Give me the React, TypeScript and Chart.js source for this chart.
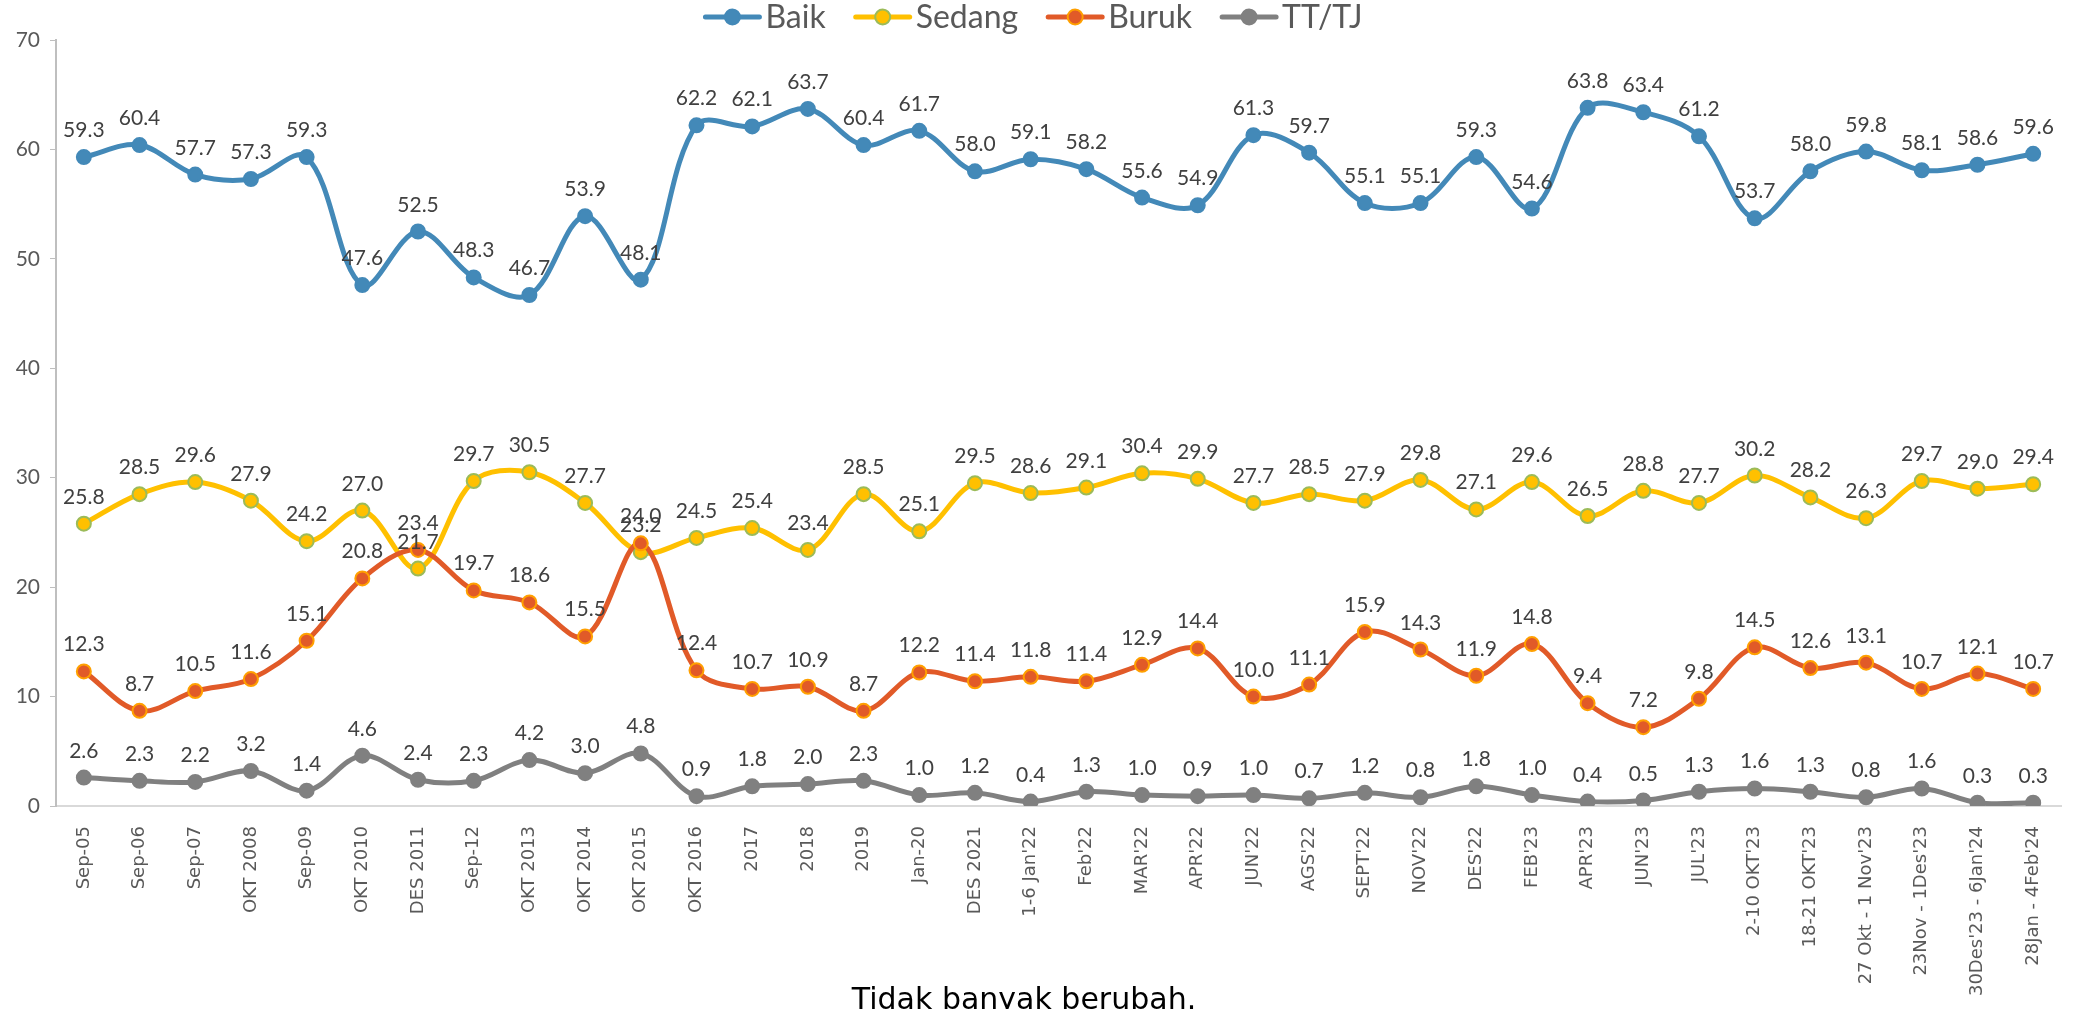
import React, { useEffect, useRef } from "react";
import { Chart, registerables } from "chart.js";
Chart.register(...registerables);

const categories = [
  "Sep-05", "Sep-06", "Sep-07", "OKT 2008", "Sep-09", "OKT 2010", "DES 2011", "Sep-12",
  "OKT 2013", "OKT 2014", "OKT 2015", "OKT 2016", "2017", "2018", "2019", "Jan-20",
  "DES 2021", "1-6 Jan'22", "Feb'22", "MAR'22", "APR'22", "JUN'22", "AGS'22", "SEPT'22",
  "NOV'22", "DES'22", "FEB'23", "APR'23", "JUN'23", "JUL'23", "2-10 OKT'23", "18-21 OKT'23",
  "27 Okt - 1 Nov'23", "23Nov - 1Des'23", "30Des'23 - 6Jan'24", "28Jan - 4Feb'24",
];

const baik = [
  59.3, 60.4, 57.7, 57.3, 59.3, 47.6, 52.5, 48.3, 46.7, 53.9, 48.1, 62.2, 62.1, 63.7, 60.4, 61.7,
  58.0, 59.1, 58.2, 55.6, 54.9, 61.3, 59.7, 55.1, 55.1, 59.3, 54.6, 63.8, 63.4, 61.2, 53.7, 58.0,
  59.8, 58.1, 58.6, 59.6,
];
const sedang = [
  25.8, 28.5, 29.6, 27.9, 24.2, 27.0, 21.7, 29.7, 30.5, 27.7, 23.2, 24.5, 25.4, 23.4, 28.5, 25.1,
  29.5, 28.6, 29.1, 30.4, 29.9, 27.7, 28.5, 27.9, 29.8, 27.1, 29.6, 26.5, 28.8, 27.7, 30.2, 28.2,
  26.3, 29.7, 29.0, 29.4,
];
const buruk = [
  12.3, 8.7, 10.5, 11.6, 15.1, 20.8, 23.4, 19.7, 18.6, 15.5, 24.0, 12.4, 10.7, 10.9, 8.7, 12.2,
  11.4, 11.8, 11.4, 12.9, 14.4, 10.0, 11.1, 15.9, 14.3, 11.9, 14.8, 9.4, 7.2, 9.8, 14.5, 12.6,
  13.1, 10.7, 12.1, 10.7,
];
const tttj = [
  2.6, 2.3, 2.2, 3.2, 1.4, 4.6, 2.4, 2.3, 4.2, 3.0, 4.8, 0.9, 1.8, 2.0, 2.3, 1.0,
  1.2, 0.4, 1.3, 1.0, 0.9, 1.0, 0.7, 1.2, 0.8, 1.8, 1.0, 0.4, 0.5, 1.3, 1.6, 1.3,
  0.8, 1.6, 0.3, 0.3,
];

const yTicks = [0, 10, 20, 30, 40, 50, 60, 70];
const titleText = "Tidak banyak berubah.";

const FONT = "'Lato', 'DejaVu Sans', sans-serif";
const AXIS_FONT = "'DejaVu Sans', sans-serif";

export default function App() {
  const ref = useRef<HTMLCanvasElement>(null);

  useEffect(() => {
    document.body.style.margin = "0";
    const canvas = ref.current!;

    const series = [
      { label: "Baik", data: baik, line: "#4389B8", fill: "#4389B8", border: "#4389B8", order: 4 },
      { label: "Sedang", data: sedang, line: "#FFC000", fill: "#FFC000", border: "#9BBB59", order: 3 },
      { label: "Buruk", data: buruk, line: "#E15A28", fill: "#E15A28", border: "#FFA000", order: 2 },
      { label: "TT/TJ", data: tttj, line: "#808080", fill: "#808080", border: "#808080", order: 1 },
    ];

    const legendPlugin = {
      id: "customLegend",
      afterDraw(chart: any) {
        const c = chart.ctx as CanvasRenderingContext2D;
        c.save();
        c.font = `32px ${FONT}`;
        const lineW = 58;
        const gapText = 4;
        const gapItem = 28;
        const widths = series.map((s) => c.measureText(s.label).width);
        let total = 0;
        widths.forEach((w, i) => {
          total += lineW + gapText + w + (i > 0 ? gapItem : 0);
        });
        let x = 1033 - total / 2;
        const y = 17;
        series.forEach((s, i) => {
          c.strokeStyle = s.line;
          c.lineWidth = 5;
          c.lineCap = "round";
          c.beginPath();
          c.moveTo(x + 2, y);
          c.lineTo(x + lineW - 2, y);
          c.stroke();
          c.beginPath();
          c.arc(x + lineW / 2, y, 7.5, 0, Math.PI * 2);
          c.fillStyle = s.fill;
          c.fill();
          c.lineWidth = 2;
          c.strokeStyle = s.border;
          c.stroke();
          c.fillStyle = "#595959";
          c.textBaseline = "middle";
          c.textAlign = "left";
          c.fillText(s.label, x + lineW + gapText, y + 1);
          x += lineW + gapText + widths[i] + gapItem;
        });
        c.restore();
      },
    };

    const labelPlugin = {
      id: "dataLabels",
      afterDatasetsDraw(chart: any) {
        const c = chart.ctx as CanvasRenderingContext2D;
        c.save();
        c.font = `21px ${FONT}`;
        c.fillStyle = "#404040";
        c.textAlign = "center";
        c.textBaseline = "alphabetic";
        chart.data.datasets.forEach((ds: any, di: number) => {
          const meta = chart.getDatasetMeta(di);
          meta.data.forEach((pt: any, i: number) => {
            const v = ds.data[i] as number;
            c.fillText(v.toFixed(1), pt.x, pt.y - 20);
          });
        });
        c.restore();
      },
    };

    const titlePlugin = {
      id: "bottomTitle",
      afterDraw(chart: any) {
        const c = chart.ctx as CanvasRenderingContext2D;
        c.save();
        c.font = `30px ${AXIS_FONT}`;
        c.fillStyle = "#000000";
        c.textAlign = "center";
        c.textBaseline = "alphabetic";
        c.fillText(titleText, 1024, 1009);
        c.restore();
      },
    };

    const chart = new Chart(canvas, {
      type: "line",
      data: {
        labels: categories,
        datasets: series.map((s) => ({
          label: s.label,
          data: s.data,
          borderColor: s.line,
          backgroundColor: s.fill,
          borderWidth: 5,
          pointRadius: 7,
          pointHoverRadius: 7,
          pointBackgroundColor: s.fill,
          pointBorderColor: s.border,
          pointBorderWidth: 2,
          tension: 0.35,
          fill: false,
          order: s.order,
        })),
      },
      options: {
        responsive: false,
        animation: false,
        devicePixelRatio: 1,
        layout: { padding: { left: 0, right: 16, top: 40, bottom: 0 } },
        plugins: {
          legend: { display: false },
          tooltip: { enabled: false },
          title: { display: false },
        },
        scales: {
          x: {
            type: "category",
            offset: true,
            grid: { display: false },
            border: { display: true, color: "#D9D9D9", width: 2 },
            ticks: {
              autoSkip: false,
              maxRotation: 90,
              minRotation: 90,
              padding: 12,
              color: "#595959",
              font: { family: AXIS_FONT, size: 18 },
            },
            afterFit(scale: any) {
              scale.height = 203;
            },
          },
          y: {
            min: 0,
            max: 70,
            afterBuildTicks(scale: any) {
              scale.ticks = yTicks.map((v) => ({ value: v }));
            },
            grid: {
              display: true,
              drawOnChartArea: false,
              drawTicks: true,
              tickLength: 6,
              color: "#BFBFBF",
            },
            border: { display: true, color: "#BFBFBF", width: 2 },
            ticks: {
              padding: 10,
              color: "#595959",
              font: { family: FONT, size: 21 },
            },
            afterFit(scale: any) {
              scale.width = 56;
            },
          },
        },
      },
      plugins: [labelPlugin, legendPlugin, titlePlugin],
    } as any);

    return () => chart.destroy();
  }, []);

  return (
    <canvas
      ref={ref}
      width={2077}
      height={1009}
      style={{ display: "block", width: "2077px", height: "1009px" }}
    />
  );
}
